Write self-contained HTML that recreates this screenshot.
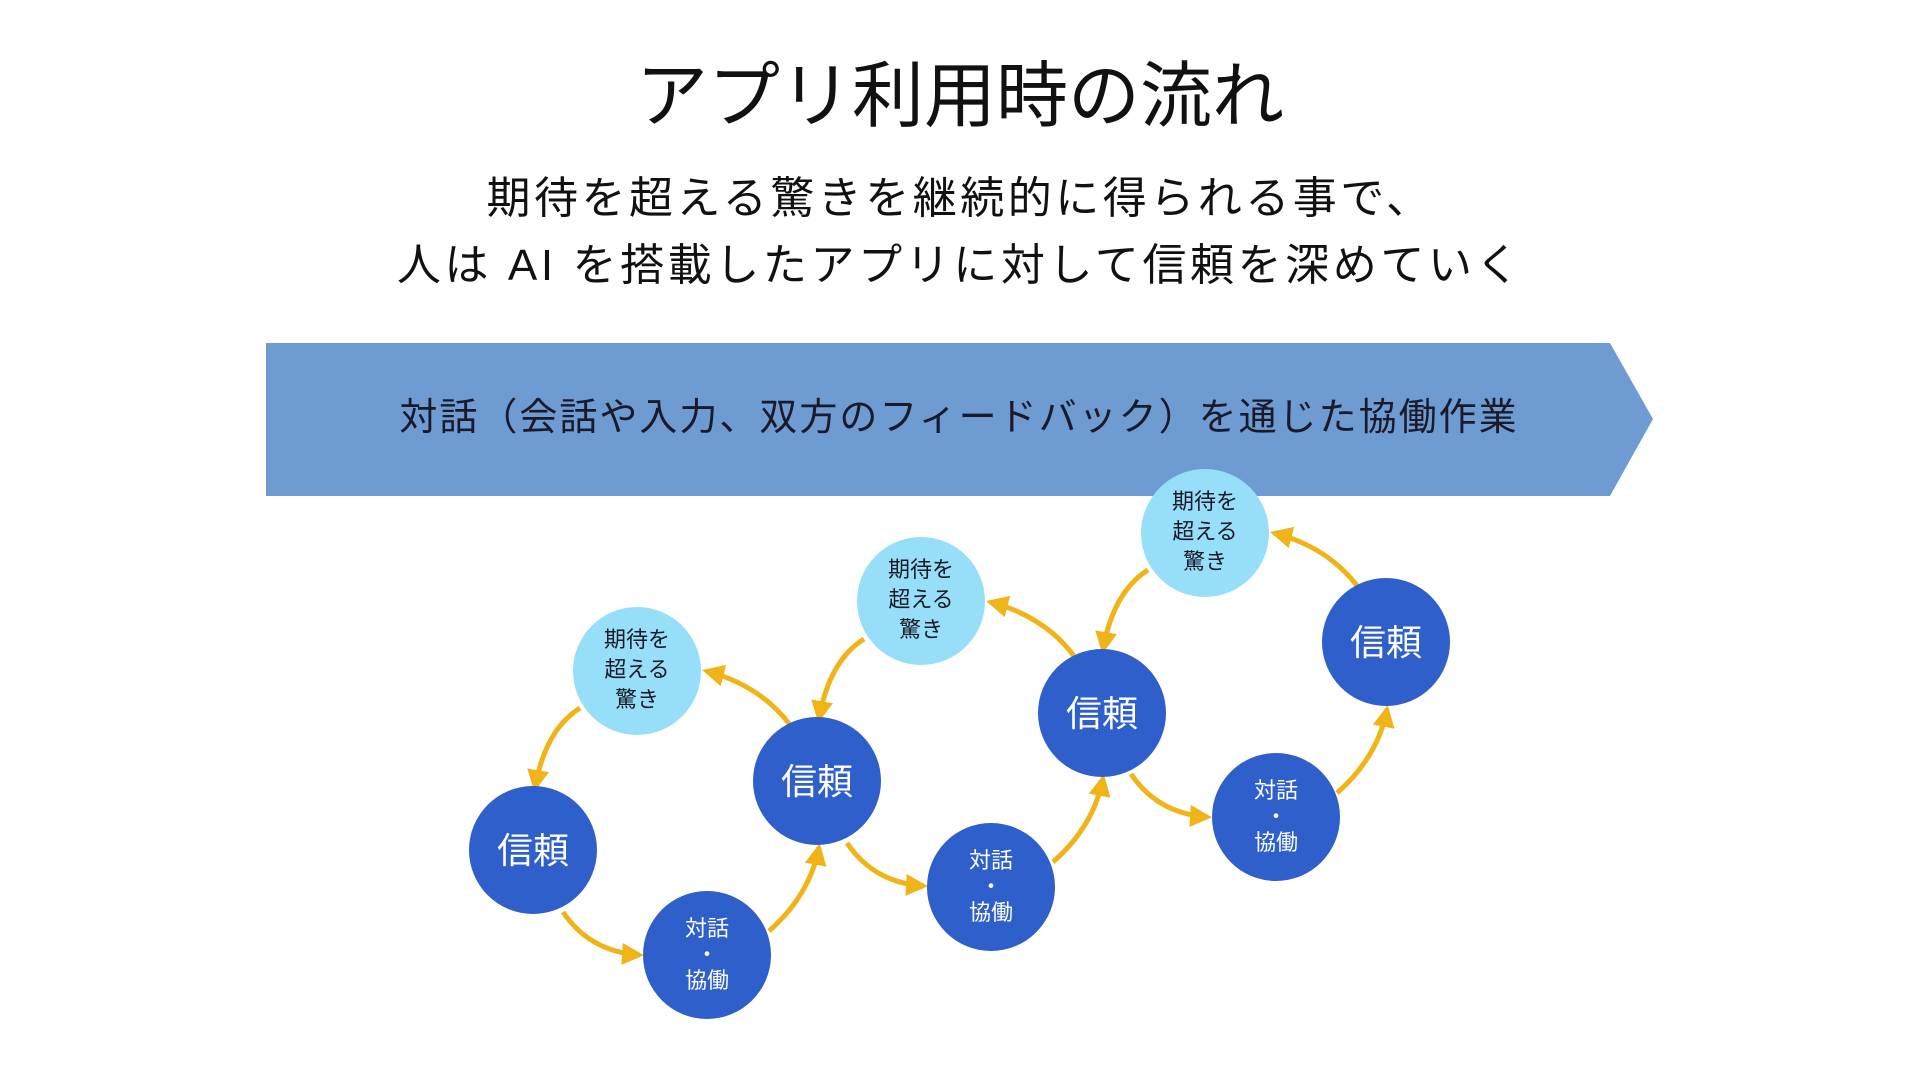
<!DOCTYPE html>
<html><head><meta charset="utf-8"><style>
html,body{margin:0;padding:0;background:#fff;}
body{width:1920px;height:1080px;position:relative;overflow:hidden;font-family:"Liberation Sans","Noto Sans CJK JP",sans-serif;}
.t{position:absolute;left:0;width:1920px;text-align:center;color:#111;white-space:nowrap;}
</style></head><body>
<div class="t" style="top:52px;font-size:72px;line-height:90px;">アプリ利用時の流れ</div>
<div class="t" style="top:171px;font-size:44px;line-height:56px;letter-spacing:3.5px;">期待を超える驚きを継続的に得られる事で、</div>
<div class="t" style="top:238px;font-size:44px;line-height:56px;letter-spacing:3.6px;">人は AI を搭載したアプリに対して信頼を深めていく</div>
<svg width="1920" height="1080" style="position:absolute;left:0;top:0" xmlns="http://www.w3.org/2000/svg">
<defs>
<marker id="a" markerUnits="userSpaceOnUse" markerWidth="24" markerHeight="24" refX="18" refY="11" orient="auto">
<path d="M0,0 L22,11 L0,22 Z" fill="#f0b418"/></marker>
<g id="grp">
<g fill="none" stroke="#f0b418" stroke-width="5" marker-end="url(#a)">
<path d="M563,912 Q590,952 640,955"/>
<path d="M769,931 Q810,895 819,847"/>
<path d="M790,725 Q760,685 706,671"/>
<path d="M580,708 Q545,730 535,788"/>
</g>
</g>
</defs>
<polygon points="266,343 1610,343 1653,419 1610,496 266,496" fill="#6e9bd2"/>
<text x="959" y="430" text-anchor="middle" font-size="38" letter-spacing="2" fill="#1a1a2a" font-family="Liberation Sans, Noto Sans CJK JP, sans-serif">対話（会話や入力、双方のフィードバック）を通じた協働作業</text>
<use href="#grp"/>
<use href="#grp" transform="translate(284,-69)"/>
<use href="#grp" transform="translate(568,-138)"/>
<g fill="#97dff9">
<circle cx="637" cy="671" r="64"/><circle cx="921" cy="601" r="64"/><circle cx="1205" cy="533" r="64"/>
</g>
<g fill="#2f5fcb">
<circle cx="533" cy="850" r="64"/><circle cx="817" cy="781" r="64"/><circle cx="1102" cy="713" r="64"/><circle cx="1386" cy="642" r="64"/>
<circle cx="707" cy="955" r="64"/><circle cx="991" cy="887" r="64"/><circle cx="1276" cy="817" r="64"/>
</g>
<g font-family="Liberation Sans, Noto Sans CJK JP, sans-serif" text-anchor="middle">
<g fill="#fff" font-size="36">
<text x="533" y="863">信頼</text><text x="817" y="794">信頼</text><text x="1102" y="726">信頼</text><text x="1386" y="655">信頼</text>
</g>
<g fill="#1a1a2a" font-size="22">
<text x="637" y="647">期待を</text><text x="637" y="677">超える</text><text x="637" y="707">驚き</text>
<text x="921" y="577">期待を</text><text x="921" y="607">超える</text><text x="921" y="637">驚き</text>
<text x="1205" y="509">期待を</text><text x="1205" y="539">超える</text><text x="1205" y="569">驚き</text>
</g>
<g fill="#fff" font-size="22">
<text x="707" y="936">対話</text><text x="707" y="962">・</text><text x="707" y="988">協働</text>
<text x="991" y="868">対話</text><text x="991" y="894">・</text><text x="991" y="920">協働</text>
<text x="1276" y="798">対話</text><text x="1276" y="824">・</text><text x="1276" y="850">協働</text>
</g>
</g>
</svg>
</body></html>
